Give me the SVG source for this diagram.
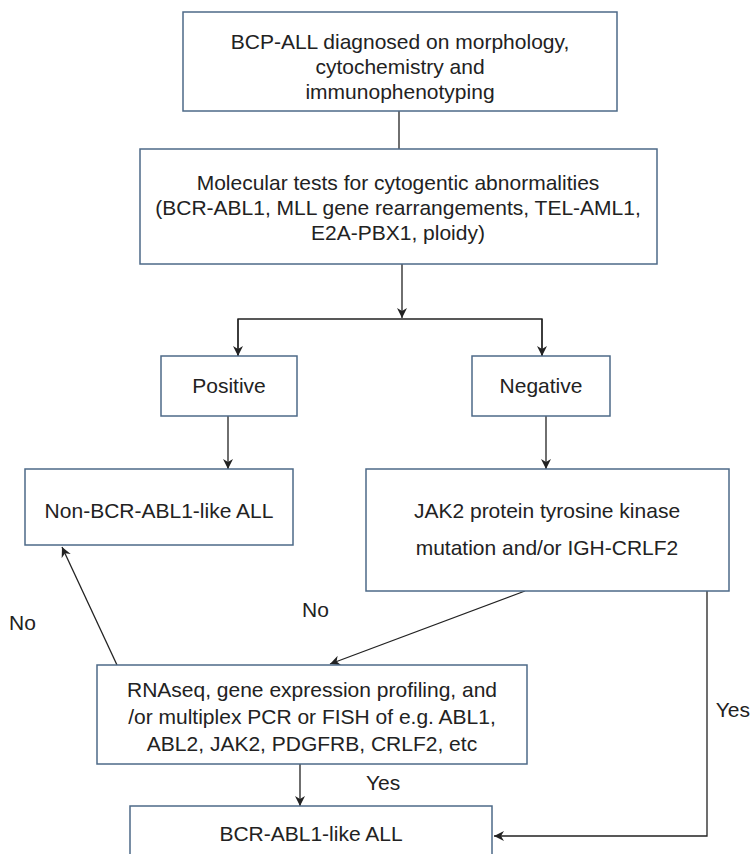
<svg xmlns="http://www.w3.org/2000/svg" width="751" height="854" viewBox="0 0 751 854">
<defs>
<marker id="ah" viewBox="0 0 10 10" refX="10" refY="5" markerWidth="10" markerHeight="10" markerUnits="userSpaceOnUse" orient="auto">
<path d="M0,0 L10,5 L0,10 L3,5 Z" fill="#222"/>
</marker>
<style>
.box{fill:#fff;stroke:#4d6a88;stroke-width:1.5}
.t{font-family:"Liberation Sans",Arial,sans-serif;font-size:21px;fill:#222;text-anchor:middle}
.l{font-family:"Liberation Sans",Arial,sans-serif;font-size:21px;fill:#222}
.c{fill:none;stroke:#222;stroke-width:1.3}
</style>
</defs>
<rect width="751" height="854" fill="#fff"/>
<g id="connectors">
<line class="c" x1="399" y1="111" x2="399" y2="149"/>
<line class="c" x1="402" y1="264" x2="402" y2="318" marker-end="url(#ah)"/>
<polyline class="c" points="238,356 238,319 542,319 542,356"/>
<line class="c" x1="238" y1="319" x2="238" y2="356" marker-end="url(#ah)"/>
<line class="c" x1="542" y1="319" x2="542" y2="356" marker-end="url(#ah)"/>
<line class="c" x1="228" y1="416" x2="228" y2="469" marker-end="url(#ah)"/>
<line class="c" x1="546" y1="416" x2="546" y2="469" marker-end="url(#ah)"/>
<line class="c" x1="525" y1="591" x2="330" y2="664" marker-end="url(#ah)"/>
<line class="c" x1="117" y1="665" x2="62" y2="547" marker-end="url(#ah)"/>
<line class="c" x1="300" y1="764" x2="300" y2="806" marker-end="url(#ah)"/>
<polyline class="c" points="707,591 707,836 494,836" marker-end="url(#ah)"/>
<text class="l" x="302" y="617">No</text>
<text class="l" x="9" y="630">No</text>
<text class="l" x="366" y="790">Yes</text>
<text class="l" x="750" y="717" text-anchor="end">Yes</text>
</g>
<g id="n1">
<rect class="box" x="183" y="12" width="434" height="99"/>
<text class="t" x="400" y="49">BCP-ALL diagnosed on morphology,</text>
<text class="t" x="400" y="74">cytochemistry and</text>
<text class="t" x="400" y="99">immunophenotyping</text>
</g>
<g id="n2">
<rect class="box" x="140" y="149" width="517" height="115"/>
<text class="t" x="398" y="190">Molecular tests for cytogentic abnormalities</text>
<text class="t" x="398" y="215">(BCR-ABL1, MLL gene rearrangements, TEL-AML1,</text>
<text class="t" x="398" y="240">E2A-PBX1, ploidy)</text>
</g>
<g id="n3">
<rect class="box" x="161" y="356" width="136" height="60"/>
<text class="t" x="229" y="393">Positive</text>
</g>
<g id="n4">
<rect class="box" x="472" y="356" width="138" height="60"/>
<text class="t" x="541" y="393">Negative</text>
</g>
<g id="n5">
<rect class="box" x="25" y="469" width="268" height="76"/>
<text class="t" x="159" y="518">Non-BCR-ABL1-like ALL</text>
</g>
<g id="n6">
<rect class="box" x="366" y="469" width="363" height="122"/>
<text class="t" x="547" y="518">JAK2 protein tyrosine kinase</text>
<text class="t" x="547" y="555">mutation and/or IGH-CRLF2</text>
</g>
<g id="n7">
<rect class="box" x="97" y="665" width="430" height="99"/>
<text class="t" x="312" y="697">RNAseq, gene expression profiling, and</text>
<text class="t" x="312" y="724">/or multiplex PCR or FISH of e.g. ABL1,</text>
<text class="t" x="312" y="751">ABL2, JAK2, PDGFRB, CRLF2, etc</text>
</g>
<g id="n8">
<rect class="box" x="130" y="806" width="362" height="60"/>
<text class="t" x="311" y="841">BCR-ABL1-like ALL</text>
</g>
</svg>
